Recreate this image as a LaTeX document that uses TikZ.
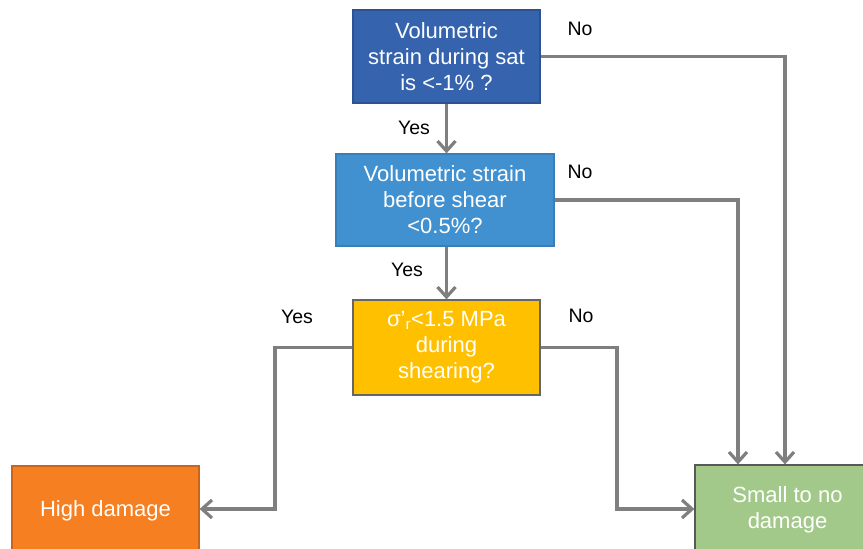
\documentclass[tikz,border=0pt]{standalone}
\usepackage{fontspec}
\setmainfont{Liberation Sans}
\usetikzlibrary{arrows.meta}
\definecolor{bluedark}{HTML}{3563AE}
\definecolor{bluedarkb}{HTML}{2C5291}
\definecolor{bluemid}{HTML}{4191D0}
\definecolor{bluemidb}{HTML}{3A7EB7}
\definecolor{gold}{HTML}{FFC000}
\definecolor{orangebox}{HTML}{F57F21}
\definecolor{orangeb}{HTML}{C8651A}
\definecolor{greenbox}{HTML}{A2C98A}
\definecolor{linegray}{HTML}{7F7F7F}
\tikzset{
  box/.style={draw, line width=1.2pt, text=white, align=center,
    font=\fontsize{22}{26}\selectfont, inner sep=0pt},
  lbl/.style={font=\fontsize{19.5}{23}\selectfont, text=black},
  conn/.style={draw=linegray, line width=3.2pt,
    -{Straight Barb[length=10pt,width=18pt,line width=3.2pt]}}
}
\begin{document}
\begin{tikzpicture}[x=1pt,y=-1pt]
\useasboundingbox (0,0) rectangle (863,549);
\begin{scope}
\clip (0,0) rectangle (863,549);
\node[box, fill=bluedark, draw=bluedarkb, minimum width=187pt, minimum height=93pt]
  (q1) at (446.5,56.5) {Volumetric\\strain during sat\\is <-1\% ?};
\node[box, fill=bluemid, draw=bluemidb, minimum width=218pt, minimum height=92pt]
  (q2) at (445,200) {Volumetric strain\\before shear\\<0.5\%?};
\node[box, fill=gold, draw=gray!80!black, minimum width=187pt, minimum height=95pt]
  (q3) at (446.5,347.5) {σ'\textsubscript{r}<1.5 MPa\\during\\shearing?};
\node[box, fill=orangebox, draw=orangeb, minimum width=187pt, minimum height=89pt]
  (hd) at (105.5,510.5) {High damage};
\node[box, fill=greenbox, draw=gray!70!black, minimum width=185pt, minimum height=89pt]
  (sd) at (787.5,509.5) {Small to no\\damage};
\end{scope}

\coordinate (c1) at (785,56.5);
\coordinate (c2) at (738,200);
\coordinate (c3a) at (275,347.5);
\coordinate (c3b) at (275,509);
\coordinate (c4a) at (617,347.5);
\coordinate (c4b) at (617,509);

\draw[conn] (q1.south) -- (q1.south |- q2.north);
\draw[conn] (q1.south |- q2.south) -- (q3.north);
\draw[conn] (q1.east) -- (c1) -- (c1 |- sd.north);
\draw[conn] (q2.east) -- (c2) -- (c2 |- sd.north);
\draw[conn] (q3.west) -- (c3a) -- (c3b) -- (c3b -| hd.east);
\draw[conn] (q3.east) -- (c4a) -- (c4b) -- (c4b -| sd.west);

\node[lbl] (n1) at (580,29) {No};
\node[lbl] (y1) at (414,128) {Yes};
\node[lbl] (n2) at (580,172) {No};
\node[lbl] (y2) at (407,270) {Yes};
\node[lbl] (y3) at (297,317) {Yes};
\node[lbl] (n3) at (581,316) {No};
\end{tikzpicture}
\end{document}
